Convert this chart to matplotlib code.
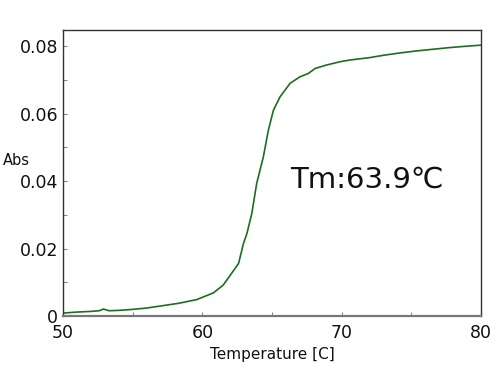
import matplotlib

matplotlib.use("Agg")

import matplotlib.pyplot as plt
from matplotlib.ticker import MultipleLocator, FixedFormatter, FixedLocator

# melting curve
temp = [50.0, 51.0, 52.0, 52.6, 52.9, 53.3, 54.0, 55.0, 56.0, 57.0, 58.3, 59.6,
        60.8, 61.5, 62.0, 62.6, 62.95, 63.2, 63.55, 63.9, 64.14, 64.38, 64.74,
        65.1, 65.58, 66.3, 67.0, 67.6, 68.1, 68.9, 69.9, 70.6, 72.0, 73.0,
        74.2, 75.4, 76.6, 77.8, 79.0, 80.0]
absorb = [0.0009, 0.0012, 0.0014, 0.0016, 0.0021, 0.0016, 0.0017, 0.0020, 0.0024,
          0.0030, 0.0038, 0.0049, 0.0069, 0.0092, 0.0121, 0.0156, 0.0215, 0.0245,
          0.0304, 0.0393, 0.0433, 0.0472, 0.0551, 0.0610, 0.0650, 0.0690, 0.0709,
          0.0719, 0.0734, 0.0744, 0.0754, 0.0759, 0.0766, 0.0773, 0.0780, 0.0786,
          0.0791, 0.0796, 0.0800, 0.0803]

y_ticks = [0, 0.02, 0.04, 0.06, 0.08]
y_labels = ["0", "0.02", "0.04", "0.06", "0.08"]
x_ticks = [50, 60, 70, 80]
tm_label = "Tm:63.9\u2103"

plt.rcParams["font.family"] = ["DejaVu Sans", "Noto Sans CJK JP"]

fig = plt.figure(figsize=(5, 3.75), dpi=100)
ax = fig.add_axes([0.126, 0.157, 0.836, 0.764])

ax.plot(temp, absorb, color="#1e6e1e", lw=1.2)

ax.set_xlim(50, 80)
ax.set_ylim(0, 0.0849)
ax.yaxis.set_major_locator(FixedLocator(y_ticks))
ax.yaxis.set_major_formatter(FixedFormatter(y_labels))
ax.yaxis.set_minor_locator(MultipleLocator(0.01))
ax.set_xticks(x_ticks)
ax.xaxis.set_minor_locator(MultipleLocator(5))
ax.tick_params(which="both", direction="in", length=3, width=0.8, color="#888888",
               labelsize=12.5, labelcolor="#111111")
ax.tick_params(axis="x", pad=6)

for side, sp in ax.spines.items():
    sp.set_color("#333333")
    sp.set_linewidth(1.0)
ax.spines["bottom"].set_color("#777777")
ax.spines["bottom"].set_linewidth(1.6)

ax.set_xlabel("Temperature [C]", fontsize=11, color="#111111", labelpad=3)
fig.text(0.006, 0.573, "Abs", fontsize=10.5, color="#111111", va="center", ha="left")

ax.text(71.8, 0.0405, tm_label, fontsize=21, color="#111111", va="center", ha="center")

fig.savefig("out.png", dpi=100)
